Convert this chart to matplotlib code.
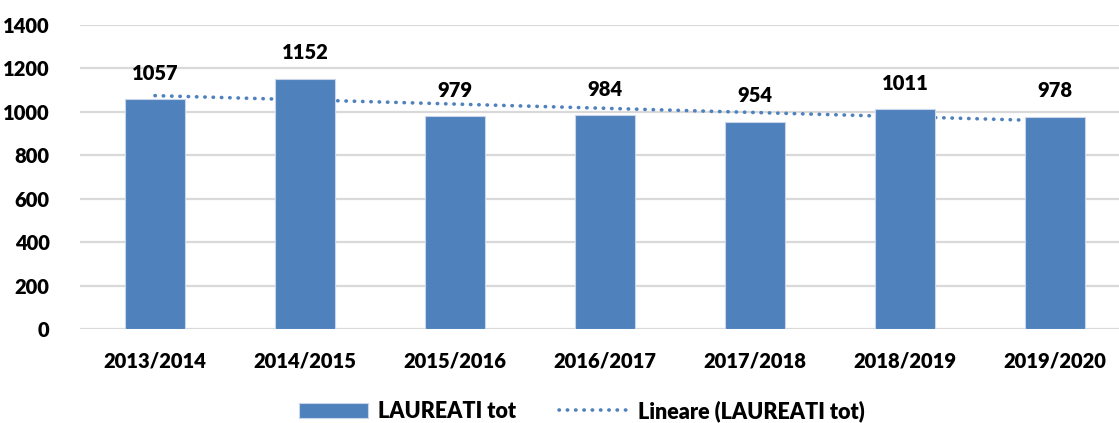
import numpy as np
import matplotlib.pyplot as plt

plt.rcParams['font.family'] = ['Lato', 'DejaVu Sans']
plt.rcParams['font.weight'] = 'heavy'

anni = ['2013/2014', '2014/2015', '2015/2016', '2016/2017',
        '2017/2018', '2018/2019', '2019/2020']
laureati = [1057, 1152, 979, 984, 954, 1011, 978]

blu = '#4F81BD'

fig = plt.figure(figsize=(11.19, 4.23), dpi=100)
ax = fig.add_axes([80 / 1119, 0.2222, 1050 / 1119, 0.7187])

x = np.arange(len(anni))
bars = ax.bar(x, laureati, width=0.4, color=blu, edgecolor='#C9D6EA',
              linewidth=0.8, zorder=3, label='LAUREATI tot')

# linea di tendenza lineare (come Excel)
coef = np.polyfit(x, laureati, 1)
trend, = ax.plot(x, np.polyval(coef, x), linestyle=(0, (0.1, 2.2)), color=blu,
                 linewidth=2.6, dash_capstyle='round', zorder=2,
                 label='Lineare (LAUREATI tot)')

for xi, v in zip(x, laureati):
    ax.annotate(str(v), (xi, v), xytext=(0, 12), textcoords='offset points',
                ha='center', va='bottom', fontsize=14.5, fontweight='heavy')

ax.set_xlim(-0.5, len(anni) - 0.5)
ax.set_ylim(0, 1400)
ax.set_yticks(range(0, 1401, 200))
ax.set_xticks(x)
ax.set_xticklabels(anni)
ax.tick_params(axis='both', length=0, labelsize=14.5)
ax.tick_params(axis='x', pad=16)
ax.tick_params(axis='y', pad=22)
ax.grid(axis='y', color='#D9D9D9', linewidth=1.6, zorder=0)
for s in ax.spines.values():
    s.set_visible(False)

fig.legend([bars, trend], ['LAUREATI tot', 'Lineare (LAUREATI tot)'],
           loc='center', bbox_to_anchor=(582 / 1119, 12 / 423), ncol=2,
           frameon=False, fontsize=15.5, handlelength=3.2, columnspacing=2.0,
           handletextpad=0.45)

fig.savefig('out.png', dpi=100)
